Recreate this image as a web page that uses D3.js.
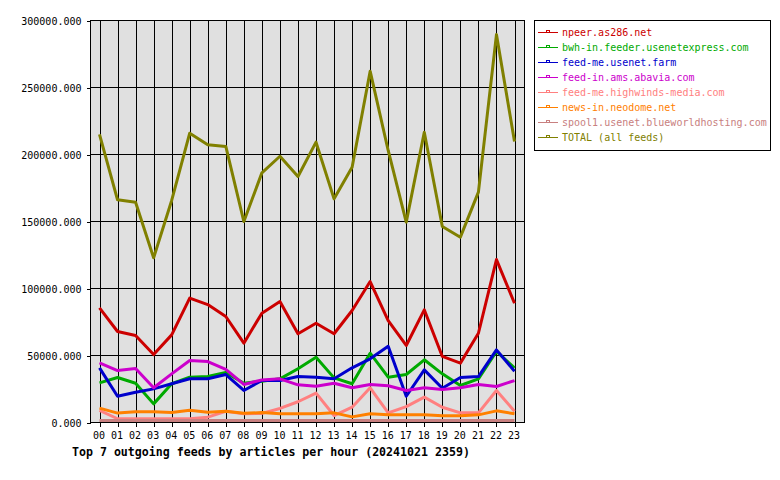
<!DOCTYPE html>
<html><head><meta charset="utf-8">
<script src="https://cdn.jsdelivr.net/npm/d3@7/dist/d3.min.js"></script>
<style>
html,body{margin:0;padding:0;background:#fff;}
svg{display:block;}
text{font-family:"DejaVu Sans Mono",monospace;}
</style></head>
<body>
<script>
const hours = ["00","01","02","03","04","05","06","07","08","09","10","11","12","13","14","15","16","17","18","19","20","21","22","23"];
const seriesNames = ["npeer.as286.net","bwh-in.feeder.usenetexpress.com","feed-me.usenet.farm","feed-in.ams.abavia.com","feed-me.highwinds-media.com","news-in.neodome.net","spool1.usenet.blueworldhosting.com","TOTAL (all feeds)"];
const seriesColors = ["#cc0000","#00aa00","#0000cc","#cc00cc","#ff8080","#ff8000","#c88080","#808000"];
const npeer = [85600,67900,64900,50700,65400,92800,88000,79100,59200,81600,90300,66200,74100,66200,83600,105200,76100,57500,84100,49300,44300,66600,121600,89000];
const bwh = [29600,33600,29300,13900,28900,33800,34300,37300,29300,30800,32600,40100,48700,33300,28900,51700,33800,35800,46800,36300,27600,32600,53000,40800];
const usenetFarm = [40800,19600,22600,25100,28900,32600,32600,35800,23900,31300,31300,34300,33800,32600,40800,47500,56900,19600,39300,25600,33600,34300,54200,38300];
const abavia = [44500,38800,40300,25900,36300,46300,45500,39600,28400,31800,32600,28100,27100,29300,25900,28400,27400,23900,25900,24600,25900,28400,26900,31300];
const highwinds = [9000,2800,2800,2800,2800,2800,4000,8400,6600,6800,10500,15500,21900,5200,11400,25900,7200,11900,18900,11400,7200,7200,23900,8400];
const neodome = [10700,7000,8000,8000,7400,9200,7700,8400,6900,7400,6500,6500,6500,7200,4200,6500,5700,5700,5700,5000,5000,5700,8700,6500];
const spool1 = [1500,1500,1500,1500,1500,1500,1500,1500,1500,1500,1500,1500,1500,1500,1500,1500,1500,1500,1500,1500,1500,1500,1500,1500];
const total = [215000,166200,164400,122900,165700,215900,207200,206000,150000,186300,198700,183600,209200,166900,190500,262200,203000,149500,216600,146300,138300,171900,289500,209700];
const yTicks = [0,50000,100000,150000,200000,250000,300000];
const title = "Top 7 outgoing feeds by articles per hour (20241021 2359)";

const seriesData = [npeer,bwh,usenetFarm,abavia,highwinds,neodome,spool1,total];

const W=780,H=480;
const svg=d3.select("body").append("svg").attr("width",W).attr("height",H);
const plot={l:90.5,t:20.5,r:524.5,b:422.5};

const x=d3.scaleLinear().domain([0,23]).range([99.5,514.5]);
const y=d3.scaleLinear().domain([0,300000]).range([plot.b,plot.t]);

svg.append("rect").attr("x",plot.l).attr("y",plot.t).attr("width",plot.r-plot.l).attr("height",plot.b-plot.t)
  .attr("fill","#e0e0e0").attr("stroke","none");

// grid
const g=svg.append("g").attr("shape-rendering","crispEdges");
g.selectAll(".vg").data(hours).enter().append("line")
  .attr("x1",(d,i)=>Math.round(x(i))+0.5-0.5).attr("x2",(d,i)=>Math.round(x(i))+0.5-0.5)
  .attr("y1",plot.t).attr("y2",plot.b).attr("stroke","#000");
g.selectAll(".hg").data(yTicks).enter().append("line")
  .attr("x1",plot.l).attr("x2",plot.r).attr("y1",d=>y(d)).attr("y2",d=>y(d)).attr("stroke","#000");

// axes
const yAxis=d3.axisLeft(y).tickValues(yTicks).tickSize(4).tickPadding(5).tickFormat(d=>d3.format(".3f")(d));
const ya=svg.append("g").attr("transform",`translate(${plot.l},0)`).call(yAxis);
ya.select(".domain").remove();
ya.selectAll("line").attr("stroke","#000").attr("shape-rendering","crispEdges");
ya.selectAll("text").attr("font-family","DejaVu Sans Mono").attr("font-size",10).attr("fill","#000").attr("dy","0.35em");

const xAxis=d3.axisBottom(x).tickValues(d3.range(24)).tickSize(4).tickPadding(5).tickFormat(i=>hours[i]);
const xa=svg.append("g").attr("transform",`translate(0,${plot.b})`).call(xAxis);
xa.select(".domain").remove();
xa.selectAll("line").attr("stroke","#000").attr("shape-rendering","crispEdges");
xa.selectAll("text").attr("font-family","DejaVu Sans Mono").attr("font-size",10).attr("fill","#000").attr("dx","-1");

// lines
const line=d3.line().x((d,i)=>x(i)).y(d=>y(d));
seriesData.forEach((s,k)=>{
  svg.append("path").datum(s).attr("d",line).attr("fill","none")
    .attr("stroke",seriesColors[k]).attr("stroke-width",3).attr("stroke-linejoin","round");
});

// frame
svg.append("rect").attr("x",plot.l).attr("y",plot.t).attr("width",plot.r-plot.l).attr("height",plot.b-plot.t)
  .attr("fill","none").attr("stroke","#000").attr("shape-rendering","crispEdges");

// title
svg.append("text").attr("x",72).attr("y",456).attr("font-size",11.6).attr("font-weight","bold").attr("fill","#000").text(title);

// legend
const lg=svg.append("g");
lg.append("rect").attr("x",534.5).attr("y",20.5).attr("width",236).attr("height",130)
  .attr("fill","#fff").attr("stroke","#000").attr("shape-rendering","crispEdges");
seriesNames.forEach((n,k)=>{
  const by=36+k*15;
  lg.append("line").attr("x1",538).attr("x2",558).attr("y1",by-3.5).attr("y2",by-3.5)
    .attr("stroke",seriesColors[k]).attr("stroke-width",1).attr("shape-rendering","crispEdges");
  lg.append("rect").attr("x",546.5).attr("y",by-5.5).attr("width",3).attr("height",2)
    .attr("fill","#fff").attr("stroke",seriesColors[k]).attr("shape-rendering","crispEdges");
  lg.append("text").attr("x",562).attr("y",by).attr("font-size",10).attr("fill",seriesColors[k]).text(n);
});
</script>
</body></html>
